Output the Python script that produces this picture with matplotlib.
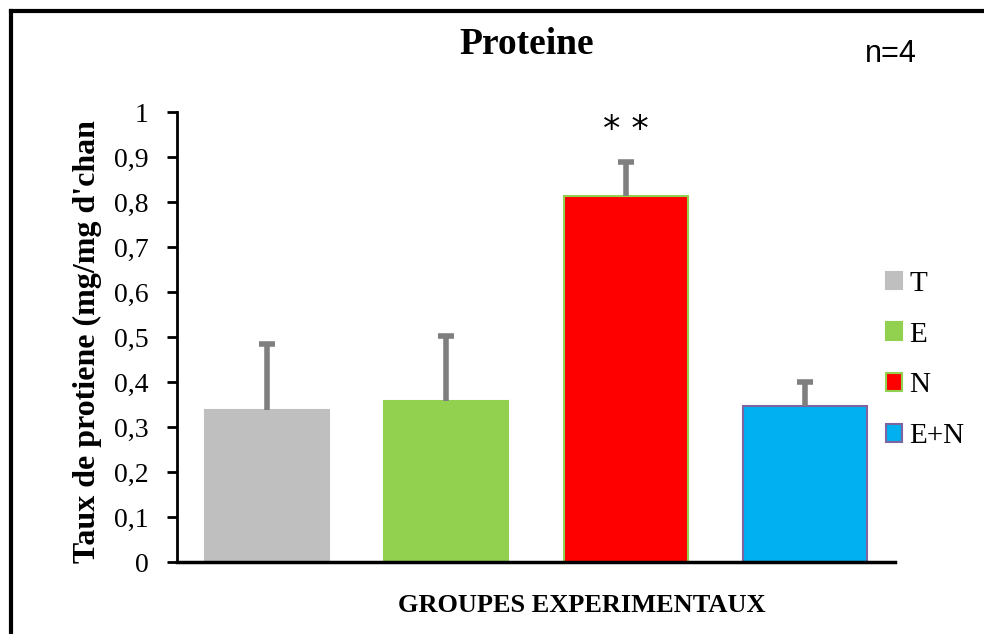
import matplotlib
matplotlib.use("Agg")
import matplotlib.pyplot as plt
from matplotlib.lines import Line2D
from matplotlib.patches import Patch
import numpy as np

# ---- data ----
groups = ["T", "E", "N", "E+N"]
means = [0.338, 0.357, 0.813, 0.347]
errors = [0.147, 0.145, 0.076, 0.053]
face_colors = ["#BFBFBF", "#92D050", "#FF0000", "#00B0F0"]
edge_colors = ["#BFBFBF", "#92D050", "#92D050", "#8064A2"]
yticks = [0, 0.1, 0.2, 0.3, 0.4, 0.5, 0.6, 0.7, 0.8, 0.9, 1.0]
ytick_labels = ["0", "0,1", "0,2", "0,3", "0,4", "0,5", "0,6", "0,7", "0,8", "0,9", "1"]

title = "Proteine"
ylabel = "Taux de protiene (mg/mg d'chan"
xlabel = "GROUPES EXPERIMENTAUX"
n_text = "n=4"
signif = "* *"

serif = ["Liberation Serif", "DejaVu Serif"]

fig = plt.figure(figsize=(9.84, 6.34), dpi=100)
W, H = 984, 634
ax = fig.add_axes([177 / W, 1 - 562 / H, (895 - 177) / W, (562 - 112) / H])

x = np.arange(len(groups))
bars = ax.bar(x, means, width=0.69, color=face_colors, edgecolor=edge_colors,
              linewidth=1.5, zorder=2)

eb = ax.errorbar(x, means, yerr=[np.zeros(len(errors)), errors], fmt="none",
                 ecolor="#7F7F7F", elinewidth=4, capsize=5.5, capthick=4, zorder=3)
caplines = eb[1]
if len(caplines) >= 2:
    caplines[0].set_visible(False)

ax.set_xlim(-0.5, 3.5)
ax.set_ylim(0, 1)
ax.set_yticks(yticks)
ax.set_yticklabels(ytick_labels, fontfamily=serif, fontsize=20)
ax.set_xticks([])
for s in ["top", "right"]:
    ax.spines[s].set_visible(False)
ax.spines["left"].set_linewidth(2)
ax.spines["bottom"].set_linewidth(2.5)
ax.tick_params(axis="y", direction="out", length=7.2, width=2, pad=13)

ax.set_ylabel(ylabel, fontfamily=serif, fontweight="bold", fontsize=23)
ax.yaxis.set_label_coords(-0.105, 0.49)

# significance stars above N
ax.text(x[2], means[2] + errors[2] + 0.07, signif, ha="center", va="center",
        fontsize=25, fontfamily="DejaVu Sans")

# title, n, x label
fig.text(527 / W, 1 - 44 / H, title, ha="center", va="center",
         fontfamily=serif, fontweight="bold", fontsize=27)
fig.text(891 / W, 1 - 54 / H, n_text, ha="center", va="center",
         fontfamily=["Liberation Sans", "DejaVu Sans"], fontsize=22)
fig.text(582 / W, 1 - 606 / H, xlabel, ha="center", va="center",
         fontfamily=serif, fontweight="bold", fontsize=19)

# legend
handles = [Patch(facecolor=fc, edgecolor=ec, linewidth=1.5)
           for fc, ec in zip(face_colors, edge_colors)]
leg = fig.legend(handles, groups, loc="center left",
                 bbox_to_anchor=(886 / W, 1 - 360 / H), bbox_transform=fig.transFigure,
                 frameon=False, prop={"family": serif, "size": 21},
                 handlelength=0.55, handleheight=0.55, handletextpad=0.25,
                 labelspacing=0.85, borderpad=0, borderaxespad=0)

# outer frame (left and top)
fig.add_artist(Line2D([11 / W, 11 / W], [0, 1 - 11 / H], transform=fig.transFigure,
                      color="black", linewidth=3, solid_capstyle="projecting"))
fig.add_artist(Line2D([11 / W, 1], [1 - 11 / H, 1 - 11 / H], transform=fig.transFigure,
                      color="black", linewidth=3, solid_capstyle="projecting"))

fig.savefig("out.png", dpi=100)
